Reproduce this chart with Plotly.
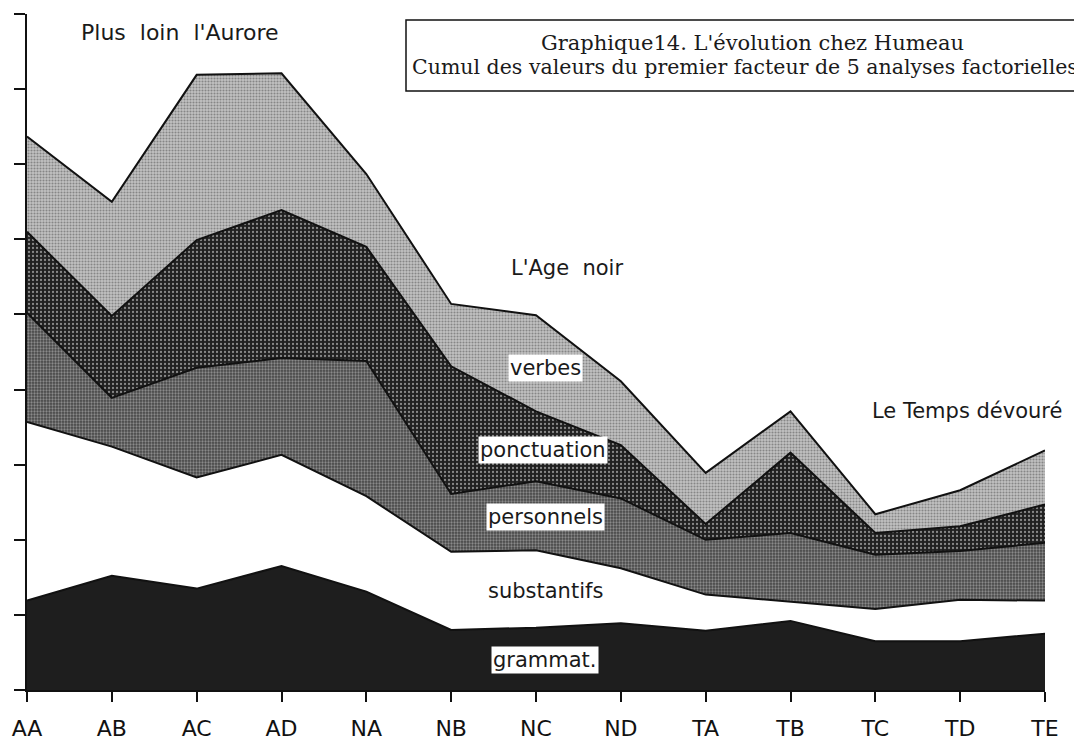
import plotly.graph_objects as go

categories = ["AA", "AB", "AC", "AD", "NA", "NB", "NC", "ND", "TA", "TB", "TC", "TD", "TE"]

grammat     = [1.19, 1.52, 1.35, 1.65, 1.31, 0.80, 0.83, 0.89, 0.79, 0.92, 0.65, 0.65, 0.75]
substantifs = [2.38, 1.72, 1.48, 1.48, 1.27, 1.04, 1.03, 0.73, 0.48, 0.25, 0.43, 0.55, 0.44]
personnels  = [1.45, 0.65, 1.46, 1.29, 1.80, 0.77, 0.92, 0.93, 0.73, 0.92, 0.72, 0.65, 0.77]
ponctuation = [1.08, 1.09, 1.70, 1.97, 1.52, 1.70, 0.93, 0.71, 0.21, 1.07, 0.29, 0.33, 0.51]
verbes      = [1.27, 1.52, 2.20, 1.82, 0.97, 0.83, 1.28, 0.85, 0.68, 0.55, 0.25, 0.48, 0.72]

series_names = ["grammat.", "substantifs", "personnels", "ponctuation", "verbes"]
y_ticks = [0, 1, 2, 3, 4, 5, 6, 7, 8, 9]

# page body has an 8px offset; margins compensate so the plot sits where the reference has it
OFF = 8
W, H = 1082, 744
PL, PR, PT, PB = 27, 1045, 14, 690          # plot box on screen
ML, MR, MT, MB = PL - OFF, W + OFF - PR, PT - OFF, H + OFF - PB
PW, PH = PR - PL, PB - PT


def px(x):
    return (x - PL) / PW


def py(y):
    return (PB - y) / PH


x = list(range(len(categories)))
fig = go.Figure()

styles = [
    dict(fillcolor="#1e1e1e"),
    dict(fillcolor="#ffffff"),
    dict(fillcolor="#7a7a7a",
         fillpattern=dict(shape=".", bgcolor="#474747", fgcolor="#cdcdcd", size=3, solidity=0.45)),
    dict(fillcolor="#333333",
         fillpattern=dict(shape=".", bgcolor="#202020", fgcolor="#f2f2f2", size=4, solidity=0.25)),
    dict(fillcolor="#a8a8a8",
         fillpattern=dict(shape=".", bgcolor="#c2c2c2", fgcolor="#4a4a4a", size=3, solidity=0.4)),
]

for name, vals, st in zip(series_names, [grammat, substantifs, personnels, ponctuation, verbes], styles):
    fig.add_trace(go.Scatter(
        x=x, y=vals, name=name, mode="lines", stackgroup="one",
        line=dict(color="#111111", width=2), showlegend=False, **st))

fig.update_xaxes(
    range=[0, len(categories) - 1], tickmode="array", tickvals=x, ticktext=categories,
    showline=True, linecolor="#111111", linewidth=1.5, ticks="outside", ticklen=10,
    tickcolor="#111111", tickwidth=1.5, showgrid=False, zeroline=False, automargin=False,
    tickfont=dict(family="DejaVu Sans", size=22, color="#111111"), ticklabelstandoff=8)
fig.update_yaxes(
    range=[0, 9], tickmode="array", tickvals=y_ticks, showticklabels=False,
    showline=True, linecolor="#111111", linewidth=1.5, ticks="outside", ticklen=11,
    tickcolor="#111111", tickwidth=1.5, showgrid=False, zeroline=False, automargin=False)

sans = dict(family="DejaVu Sans", size=21, color="#1a1a1a")
serif = dict(family="DejaVu Serif", size=21, color="#1a1a1a")
serif2 = dict(family="DejaVu Serif", size=20.5, color="#1a1a1a")

ann = []
def add(text, x0, y0, font, xanchor="center", bg=None):
    a = dict(text=text, x=px(x0), y=py(y0), xref="paper", yref="paper",
             xanchor=xanchor, yanchor="middle", showarrow=False, font=font)
    if bg:
        a.update(bgcolor=bg, borderpad=1)
    ann.append(a)

add("Plus\u00a0 loin\u00a0 l'Aurore", 180, 32, dict(sans, size=22))
add("L'Age\u00a0 noir", 567, 268, sans)
add("Le Temps dévouré", 967, 411, sans)
add("verbes", 545, 368, sans, bg="white")
add("ponctuation", 543, 450, sans, bg="white")
add("personnels", 545, 517, sans, bg="white")
add("substantifs", 545, 591, sans)
add("grammat.", 545, 660, sans, bg="white")
add("Graphique14. L'évolution chez Humeau", 752, 43, serif)
add("Cumul des valeurs du premier facteur de 5 analyses factorielles", 410, 67, serif2, xanchor="left")

fig.update_layout(
    width=W, height=H, margin=dict(l=ML, r=MR, t=MT, b=MB, autoexpand=False),
    plot_bgcolor="white", paper_bgcolor="white", annotations=ann,
    shapes=[dict(type="rect", xref="paper", yref="paper",
                 x0=px(406), x1=px(1110), y0=py(91), y1=py(20),
                 line=dict(color="#111111", width=1.5))])

fig.write_html("out.html")
